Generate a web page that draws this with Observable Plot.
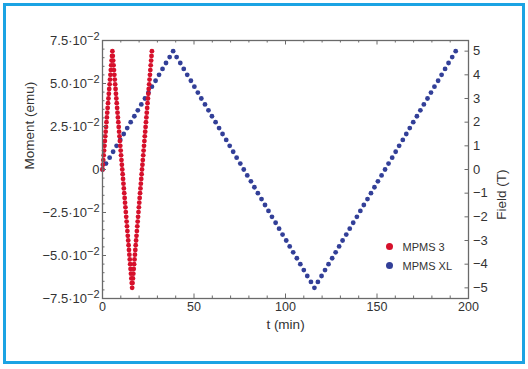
<!DOCTYPE html>
<html>
<head>
<meta charset="utf-8">
<script src="https://cdn.jsdelivr.net/npm/d3@7"></script>
<script src="https://cdn.jsdelivr.net/npm/@observablehq/plot@0.6"></script>
<style>
html, body { margin: 0; padding: 0; background: #fff; }
#wrap { position: relative; width: 528px; height: 369px; overflow: hidden; font-family: "Liberation Sans", Arial, sans-serif; background: #fff; }
#border { position: absolute; left: 3px; top: 3px; width: 522px; height: 361px; box-sizing: border-box; border: 3px solid #1ba3e3; }
#chart { position: absolute; left: 0; top: 0; }
#chart svg { display: block; }
.legdot { position: absolute; width: 7px; height: 7px; border-radius: 50%; }
.legtxt { position: absolute; font-size: 11px; line-height: 14px; color: #333; white-space: nowrap; }
</style>
</head>
<body>
<div id="wrap">
  <div id="border"></div>
  <div id="chart"></div>
  <div class="legdot" style="left:386px;top:243px;background:#d6102b"></div>
  <div class="legtxt" style="left:402.5px;top:240px">MPMS 3</div>
  <div class="legdot" style="left:386px;top:262px;background:#323f98"></div>
  <div class="legtxt" style="left:402.5px;top:259px">MPMS XL</div>
</div>
<script>
// ---- Data ----
// MPMS 3 (red): time (min) and field (T)
const redT = [0,0.22,0.43,0.65,0.86,1.08,1.30,1.51,1.73,1.94,2.16,2.38,2.59,2.81,3.02,3.24,3.46,3.67,3.89,4.10,4.32,4.54,4.75,4.97,5.18,5.40,
  5.62,5.83,6.05,6.26,6.48,6.70,6.91,7.13,7.34,7.56,7.78,7.99,8.21,8.42,8.64,8.86,9.07,9.29,9.50,9.72,9.94,10.15,10.37,10.58,10.80,11.02,11.23,11.45,11.66,11.88,12.10,12.31,12.53,12.74,12.96,13.18,13.39,13.61,13.82,14.04,14.26,14.47,14.69,14.90,15.12,15.34,15.55,15.77,15.98,16.20,
  16.42,16.63,16.85,17.06,17.28,17.50,17.71,17.93,18.14,18.36,18.58,18.79,19.01,19.22,19.44,19.66,19.87,20.09,20.30,20.52,20.74,20.95,21.17,21.38,21.60,21.82,22.03,22.25,22.46,22.68,22.90,23.11,23.33,23.54,23.76,23.98,24.19,24.41,24.62,24.84,25.06,25.27,25.49,25.70,25.92,26.14,26.35,26.57,26.78,27.00];
const redB = [0,0.2,0.4,0.6,0.8,1,1.2,1.4,1.6,1.8,2,2.2,2.4,2.6,2.8,3,3.2,3.4,3.6,3.8,4,4.2,4.4,4.6,4.8,5,
  4.8,4.6,4.4,4.2,4,3.8,3.6,3.4,3.2,3,2.8,2.6,2.4,2.2,2,1.8,1.6,1.4,1.2,1,0.8,0.6,0.4,0.2,0,-0.2,-0.4,-0.6,-0.8,-1,-1.2,-1.4,-1.6,-1.8,-2,-2.2,-2.4,-2.6,-2.8,-3,-3.2,-3.4,-3.6,-3.8,-4,-4.2,-4.4,-4.6,-4.8,-5,
  -4.8,-4.6,-4.4,-4.2,-4,-3.8,-3.6,-3.4,-3.2,-3,-2.8,-2.6,-2.4,-2.2,-2,-1.8,-1.6,-1.4,-1.2,-1,-0.8,-0.6,-0.4,-0.2,0,0.2,0.4,0.6,0.8,1,1.2,1.4,1.6,1.8,2,2.2,2.4,2.6,2.8,3,3.2,3.4,3.6,3.8,4,4.2,4.4,4.6,4.8,5];

// MPMS XL (blue): time (min) and field (T)
const blueT = [0,1.9,3.9,5.8,7.7,9.7,11.6,13.5,15.4,17.4,19.3,21.2,23.2,25.1,27.0,29.0,30.9,32.8,34.7,36.7,38.6,
  40.5,42.5,44.4,46.3,48.3,50.2,52.1,54.0,56.0,57.9,59.8,61.8,63.7,65.6,67.6,69.5,71.4,73.3,75.3,77.2,79.1,81.1,83.0,84.9,86.9,88.8,90.7,92.6,94.6,96.5,98.4,100.4,102.3,104.2,106.2,108.1,110.0,111.9,113.9,115.8,
  117.7,119.7,121.6,123.5,125.5,127.4,129.3,131.2,133.2,135.1,137.0,139.0,140.9,142.8,144.8,146.7,148.6,150.5,152.5,154.4,156.3,158.3,160.2,162.1,164.1,166.0,167.9,169.8,171.8,173.7,175.6,177.6,179.5,181.4,183.4,185.3,187.2,189.1,191.1,193.0];
const blueB = [0,0.25,0.5,0.75,1,1.25,1.5,1.75,2,2.25,2.5,2.75,3,3.25,3.5,3.75,4,4.25,4.5,4.75,5,
  4.75,4.5,4.25,4,3.75,3.5,3.25,3,2.75,2.5,2.25,2,1.75,1.5,1.25,1,0.75,0.5,0.25,0,-0.25,-0.5,-0.75,-1,-1.25,-1.5,-1.75,-2,-2.25,-2.5,-2.75,-3,-3.25,-3.5,-3.75,-4,-4.25,-4.5,-4.75,-5,
  -4.75,-4.5,-4.25,-4,-3.75,-3.5,-3.25,-3,-2.75,-2.5,-2.25,-2,-1.75,-1.5,-1.25,-1,-0.75,-0.5,-0.25,0,0.25,0.5,0.75,1,1.25,1.5,1.75,2,2.25,2.5,2.75,3,3.25,3.5,3.75,4,4.25,4.5,4.75,5];

// Axis ticks & labels
const timeTicks = [0, 50, 100, 150, 200];
const timeLabels = ["0", "50", "100", "150", "200"];
const timeMinor = [10,20,30,40,60,70,80,90,110,120,130,140,160,170,180,190];
const momentTicks = [-0.075, -0.05, -0.025, 0, 0.025, 0.05, 0.075];
const momentLabels = ["−7.5·10|−2", "−5.0·10|−2", "−2.5·10|−2", "0", "2.5·10|−2", "5.0·10|−2", "7.5·10|−2"];
const fieldTicks = [-5, -4, -3, -2, -1, 0, 1, 2, 3, 4, 5];
const fieldLabels = ["−5", "−4", "−3", "−2", "−1", "0", "1", "2", "3", "4", "5"];

// ---- Build ----
const red = redT.map((t, i) => ({t, B: redB[i]}));
const blue = blueT.map((t, i) => ({t, B: blueB[i]}));

const W = 528, H = 369, mL = 102, mR = 60, mT = 40, mB = 71;
const iw = W - mL - mR, ih = H - mT - mB;
const fieldMax = 5.45;                 // field (T) at the top of the frame
const k = fieldMax / 0.075;            // T per emu (left axis 0.075 emu at top)
const momentMinor = d3.range(-15, 16).map(i => i * 0.005 * k);
const axisColor = "#6a6a6a";

const momentPos = momentTicks.map(m => m * k);
const momentFmt = d => { const i = momentPos.findIndex(p => Math.abs(p - d) < 1e-6); return i < 0 ? "" : momentLabels[i]; };
const fieldFmt = d => fieldLabels[fieldTicks.indexOf(d)];
const timeFmt = d => timeLabels[timeTicks.indexOf(d)];

const plot = Plot.plot({
  width: W, height: H,
  marginLeft: mL, marginRight: mR, marginTop: mT, marginBottom: mB,
  style: {fontFamily: "'Liberation Sans', Arial, sans-serif", fontSize: "12.5px", color: "#333", background: "transparent", overflow: "visible"},
  x: {domain: [0, 200]},
  y: {domain: [-fieldMax, fieldMax]},
  marks: [
    Plot.dot(blue, {x: "t", y: "B", r: 2.4, fill: "#323f98"}),
    Plot.dot(red, {x: "t", y: "B", r: 2.4, fill: "#d6102b"}),
    Plot.frame({stroke: axisColor, strokeWidth: 1.3}),
    // bottom ticks (inward)
    Plot.ruleX(timeTicks, {x: d => d, insetTop: ih - 4.5, stroke: axisColor}),
    Plot.ruleX(timeMinor, {x: d => d, insetTop: ih - 2.5, stroke: axisColor}),
    // top ticks (inward)
    Plot.ruleX(timeTicks, {x: d => d, insetBottom: ih - 4.5, stroke: axisColor}),
    Plot.ruleX(timeMinor, {x: d => d, insetBottom: ih - 2.5, stroke: axisColor}),
    // left ticks (inward)
    Plot.ruleY(momentPos, {y: d => d, insetRight: iw - 4, stroke: axisColor}),
    Plot.ruleY(momentMinor, {y: d => d, insetRight: iw - 2.5, stroke: axisColor}),
    // right ticks (inward)
    Plot.ruleY(fieldTicks, {y: d => d, insetLeft: iw - 3.5, stroke: axisColor}),
    // tick labels
    Plot.axisX({anchor: "bottom", ticks: timeTicks, tickFormat: timeFmt, tickSize: 0, tickPadding: 4, label: null}),
    Plot.axisY({anchor: "left", ticks: momentPos, tickFormat: momentFmt, tickSize: 0, tickPadding: 3, fontSize: 13, label: null}),
    Plot.axisY({anchor: "right", ticks: fieldTicks, tickFormat: fieldFmt, tickSize: 0, tickPadding: 4.5, fontSize: 13, label: null}),
    // axis titles
    Plot.text(["Moment (emu)"], {text: d => d, frameAnchor: "left", rotate: -90, dx: -73, fontSize: 13.5, fill: "#333"}),
    Plot.text(["Field (T)"], {text: d => d, frameAnchor: "right", rotate: -90, dx: 33, fontSize: 13.5, fill: "#333"}),
    Plot.text(["t (min)"], {text: d => d, frameAnchor: "bottom", dy: 30, fontSize: 13.5, fill: "#333"})
  ]
});

// superscript exponents on the moment axis labels
plot.querySelectorAll("text").forEach(t => {
  const s = t.textContent;
  if (s.includes("|")) {
    const [a, b] = s.split("|");
    while (t.firstChild) t.removeChild(t.firstChild);
    t.appendChild(document.createTextNode(a));
    const sup = document.createElementNS("http://www.w3.org/2000/svg", "tspan");
    sup.setAttribute("dy", "-0.42em");
    sup.setAttribute("font-size", "11px");
    sup.textContent = b;
    t.appendChild(sup);
  }
});

document.getElementById("chart").appendChild(plot);
</script>
</body>
</html>
